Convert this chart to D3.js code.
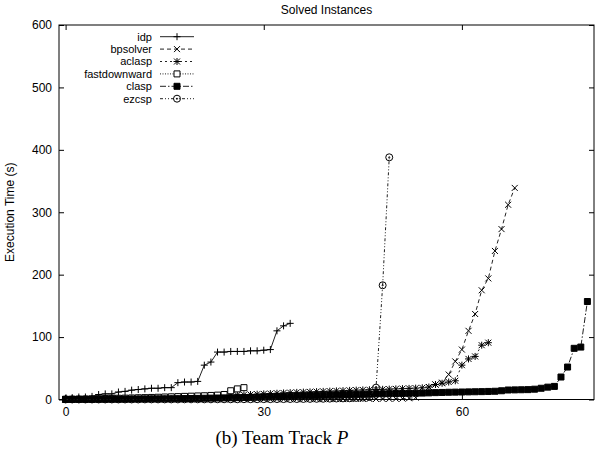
<!DOCTYPE html>
<html>
<head>
<meta charset="utf-8">
<script src="https://cdn.jsdelivr.net/npm/d3@7"></script>
<style>
  body { margin: 0; background: #fff; }
  svg text { font-family: "Liberation Sans", Arial, sans-serif; fill: #000; }
</style>
</head>
<body>
<svg id="chart" width="598" height="451"></svg>
<script>
// sorted solve times (s) per solver, instance index on x
let idp = [2, 3, 4, 4, 5, 8, 9, 9, 12, 13, 15, 16, 17, 18, 18, 19, 19, 27, 28, 28,
    29, 55, 60, 76, 76, 77, 77, 77, 78, 78, 79, 80, 110, 118, 122];
let bpsolver = [0.1, 0.1, 0.1, 0.1, 0.1, 0.1, 0.1, 0.1, 0.1, 0.1,
    0.1, 0.1, 0.1, 0.2, 0.2, 0.2, 0.2, 0.2, 0.2, 0.2,
    0.2, 0.3, 0.3, 0.3, 0.3, 0.3, 0.3, 0.3, 0.4, 0.4,
    0.4, 0.4, 0.4, 0.5, 0.5, 0.5, 0.5, 0.6, 0.6, 0.6,
    0.6, 0.7, 0.7, 0.7, 0.8, 0.8, 0.8, 0.9, 0.9, 1.0,
    1.2, 1.5, 2, 3, 10, 20, 24, 27,
    40, 61, 80, 110, 137, 175, 194, 238, 273, 312, 339];
let aclasp = [0.5, 0.6, 0.8, 0.9, 1, 1.2, 1.3, 1.5, 1.7, 1.9,
    2.1, 2.3, 2.5, 2.8, 3, 3.3, 3.6, 3.9, 4.2, 4.5,
    4.8, 5.2, 5.6, 6, 6.4, 6.8, 7.2, 7.6, 8, 8.5,
    9, 9.5, 10, 10.5, 11, 11.4, 11.8, 12.2, 12.6, 13,
    13.4, 13.8, 14.2, 14.6, 15, 15.3, 15.6, 16, 16.3, 16.6,
    17, 17.4, 17.8, 18.2, 18.8,
    20, 24, 26, 28, 30, 55, 65, 69, 87, 91];
let fastdownward = [0.3, 0.5, 0.6, 0.8, 1, 1.2, 1.5, 1.8, 2, 2.2,
    2.5, 2.8, 3, 3.3, 3.6, 4, 4.3, 4.6, 5, 5.3,
    5.7, 6, 6.5, 7, 8, 14, 17, 19];
let clasp = [0.2, 0.2, 0.3, 0.3, 0.3, 0.4, 0.4, 0.5, 0.5, 0.6,
    0.7, 0.8, 0.9, 1, 1, 1.1, 1.2, 1.3, 1.5, 1.6,
    1.8, 2, 2.2, 2.4, 2.6, 2.8, 3, 3.2, 3.5, 3.8,
    4, 4.3, 4.6, 5, 5.3, 5.6, 6, 6.3, 6.6, 7,
    7.3, 7.6, 7.9, 8.1, 8.3, 8.5, 8.7, 8.9, 9.1, 9.3,
    9.5, 9.7, 9.9, 10.1, 10.3, 10.6, 11, 11.3, 11.6, 11.8,
    12, 12.2, 12.4, 12.6, 12.9, 13.2, 14, 15.2, 15.4, 15.6,
    15.8, 16.5, 18, 19.8, 21, 36, 52, 82, 84, 157];
let ezcsp = [0.1, 0.1, 0.1, 0.1, 0.1, 0.1, 0.1, 0.1, 0.1, 0.1,
    0.1, 0.1, 0.2, 0.2, 0.2, 0.2, 0.2, 0.2, 0.3, 0.3,
    0.3, 0.3, 0.3, 0.4, 0.4, 0.4, 0.4, 0.5, 0.5, 0.5,
    0.6, 0.6, 0.7, 0.7, 0.8, 0.8, 0.9, 1, 1.1, 1.2,
    1.4, 1.6, 1.8, 2, 2.5, 3, 4, 19, 183, 388];

let seriesNames = ["idp", "bpsolver", "aclasp", "fastdownward", "clasp", "ezcsp"];
let seriesValues = [idp, bpsolver, aclasp, fastdownward, clasp, ezcsp];
let xTicks = [0, 30, 60];
let yTicks = [0, 100, 200, 300, 400, 500, 600];

// gnuplot-ish point types
let plus = {draw(c, s) { let r = 3.5; c.moveTo(-r, 0); c.lineTo(r, 0); c.moveTo(0, -r); c.lineTo(0, r); }};
let cross = {draw(c, s) { let r = 3; c.moveTo(-r, -r); c.lineTo(r, r); c.moveTo(-r, r); c.lineTo(r, -r); }};
let star = {draw(c, s) { plus.draw(c, s); cross.draw(c, s); }};
let box = {draw(c, s) { let r = 3; c.rect(-r, -r, 2 * r, 2 * r); }};
let ring = {draw(c, s) { c.moveTo(3.5, 0); c.arc(0, 0, 3.5, 0, 2 * Math.PI); c.moveTo(0.6, 0); c.arc(0, 0, 0.6, 0, 2 * Math.PI); }};

let styles = {
    idp: {sym: plus, dash: null, fill: "none"},
    bpsolver: {sym: cross, dash: "4,3", fill: "none"},
    aclasp: {sym: star, dash: "2,3", fill: "none"},
    fastdownward: {sym: box, dash: "1,1.5", fill: "#fff"},
    clasp: {sym: box, dash: "6,2,1.5,2", fill: "#000"},
    ezcsp: {sym: ring, dash: "3,2,1,2,1,2", fill: "none"}
};

let svg = d3.select("#chart"),
    margin = {top: 25, right: 4, bottom: 51.5, left: 59},
    width = +svg.attr("width"),
    height = +svg.attr("height");

let x = d3.scaleLinear()
    .domain([-1, 80])
    .range([margin.left, width - margin.right]);

let y = d3.scaleLinear()
    .domain([0, 600])
    .range([height - margin.bottom, margin.top]);

// axes (ticks pointing inward, mirrored on the opposite side)
svg.append("g")
    .attr("transform", "translate(" + margin.left + ",0)")
    .call(d3.axisLeft(y).tickValues(yTicks).tickSizeInner(-5).tickSizeOuter(0).tickPadding(7))
    .call(g => g.select(".domain").remove())
    .call(g => g.selectAll("text").style("font-size", "12px").style("font-family", "Liberation Sans, Arial, sans-serif"));

svg.append("g")
    .attr("transform", "translate(" + (width - margin.right) + ",0)")
    .call(d3.axisRight(y).tickValues(yTicks).tickSizeInner(-5).tickSizeOuter(0).tickFormat(""))
    .call(g => g.select(".domain").remove());

svg.append("g")
    .attr("transform", "translate(0," + (height - margin.bottom) + ")")
    .call(d3.axisBottom(x).tickValues(xTicks).tickSizeInner(-5).tickSizeOuter(0).tickPadding(8))
    .call(g => g.select(".domain").remove())
    .call(g => g.selectAll("text").style("font-size", "12px").style("font-family", "Liberation Sans, Arial, sans-serif"));

svg.append("g")
    .attr("transform", "translate(0," + margin.top + ")")
    .call(d3.axisTop(x).tickValues(xTicks).tickSizeInner(-5).tickSizeOuter(0).tickFormat(""))
    .call(g => g.select(".domain").remove());

svg.selectAll(".tick line").attr("stroke", "#000");

svg.append("rect")
    .attr("x", margin.left)
    .attr("y", margin.top)
    .attr("width", width - margin.right - margin.left)
    .attr("height", height - margin.bottom - margin.top)
    .attr("fill", "none")
    .attr("stroke", "#000")
    .attr("stroke-width", 1);

// series
let line = d3.line()
    .x((d, i) => x(i))
    .y(d => y(d));

seriesNames.forEach((name, k) => {
    let st = styles[name];
    let vals = seriesValues[k];
    let g = svg.append("g").attr("class", "series-" + name);

    g.append("path")
        .datum(vals)
        .attr("d", line)
        .attr("fill", "none")
        .attr("stroke", "#222")
        .attr("stroke-width", 1)
        .attr("stroke-dasharray", st.dash);

    g.selectAll("path.pt")
        .data(vals)
        .enter()
        .append("path")
        .attr("class", "pt")
        .attr("transform", (d, i) => "translate(" + x(i) + "," + y(d) + ")")
        .attr("d", d3.symbol().type(st.sym))
        .attr("fill", st.fill)
        .attr("stroke", "#000")
        .attr("stroke-width", 1);
});

// legend
let legend = svg.append("g").attr("class", "legend");
seriesNames.forEach((name, k) => {
    let st = styles[name];
    let ly = 36.7 + k * 12.4;
    legend.append("text")
        .attr("x", 152)
        .attr("y", ly)
        .attr("dy", "0.35em")
        .attr("text-anchor", "end")
        .style("font-size", "11px")
        .text(name);
    legend.append("line")
        .attr("x1", 160).attr("x2", 194)
        .attr("y1", ly).attr("y2", ly)
        .attr("stroke", "#222")
        .attr("stroke-dasharray", st.dash);
    legend.append("path")
        .attr("transform", "translate(177," + ly + ")")
        .attr("d", d3.symbol().type(st.sym))
        .attr("fill", st.fill)
        .attr("stroke", "#000");
});

// titles
svg.append("text")
    .attr("x", (margin.left + width - margin.right) / 2)
    .attr("y", 14)
    .attr("text-anchor", "middle")
    .style("font-size", "12px")
    .text("Solved Instances");

svg.append("text")
    .attr("transform", "translate(14," + ((margin.top + height - margin.bottom) / 2) + ") rotate(-90)")
    .attr("text-anchor", "middle")
    .style("font-size", "12px")
    .text("Execution Time (s)");

let caption = svg.append("text")
    .attr("x", 282)
    .attr("y", 444)
    .attr("text-anchor", "middle")
    .style("font-family", "Liberation Serif, Times New Roman, serif")
    .style("font-size", "19px");
caption.append("tspan").text("(b) Team Track ");
caption.append("tspan").style("font-style", "italic").text("P");
</script>
</body>
</html>
